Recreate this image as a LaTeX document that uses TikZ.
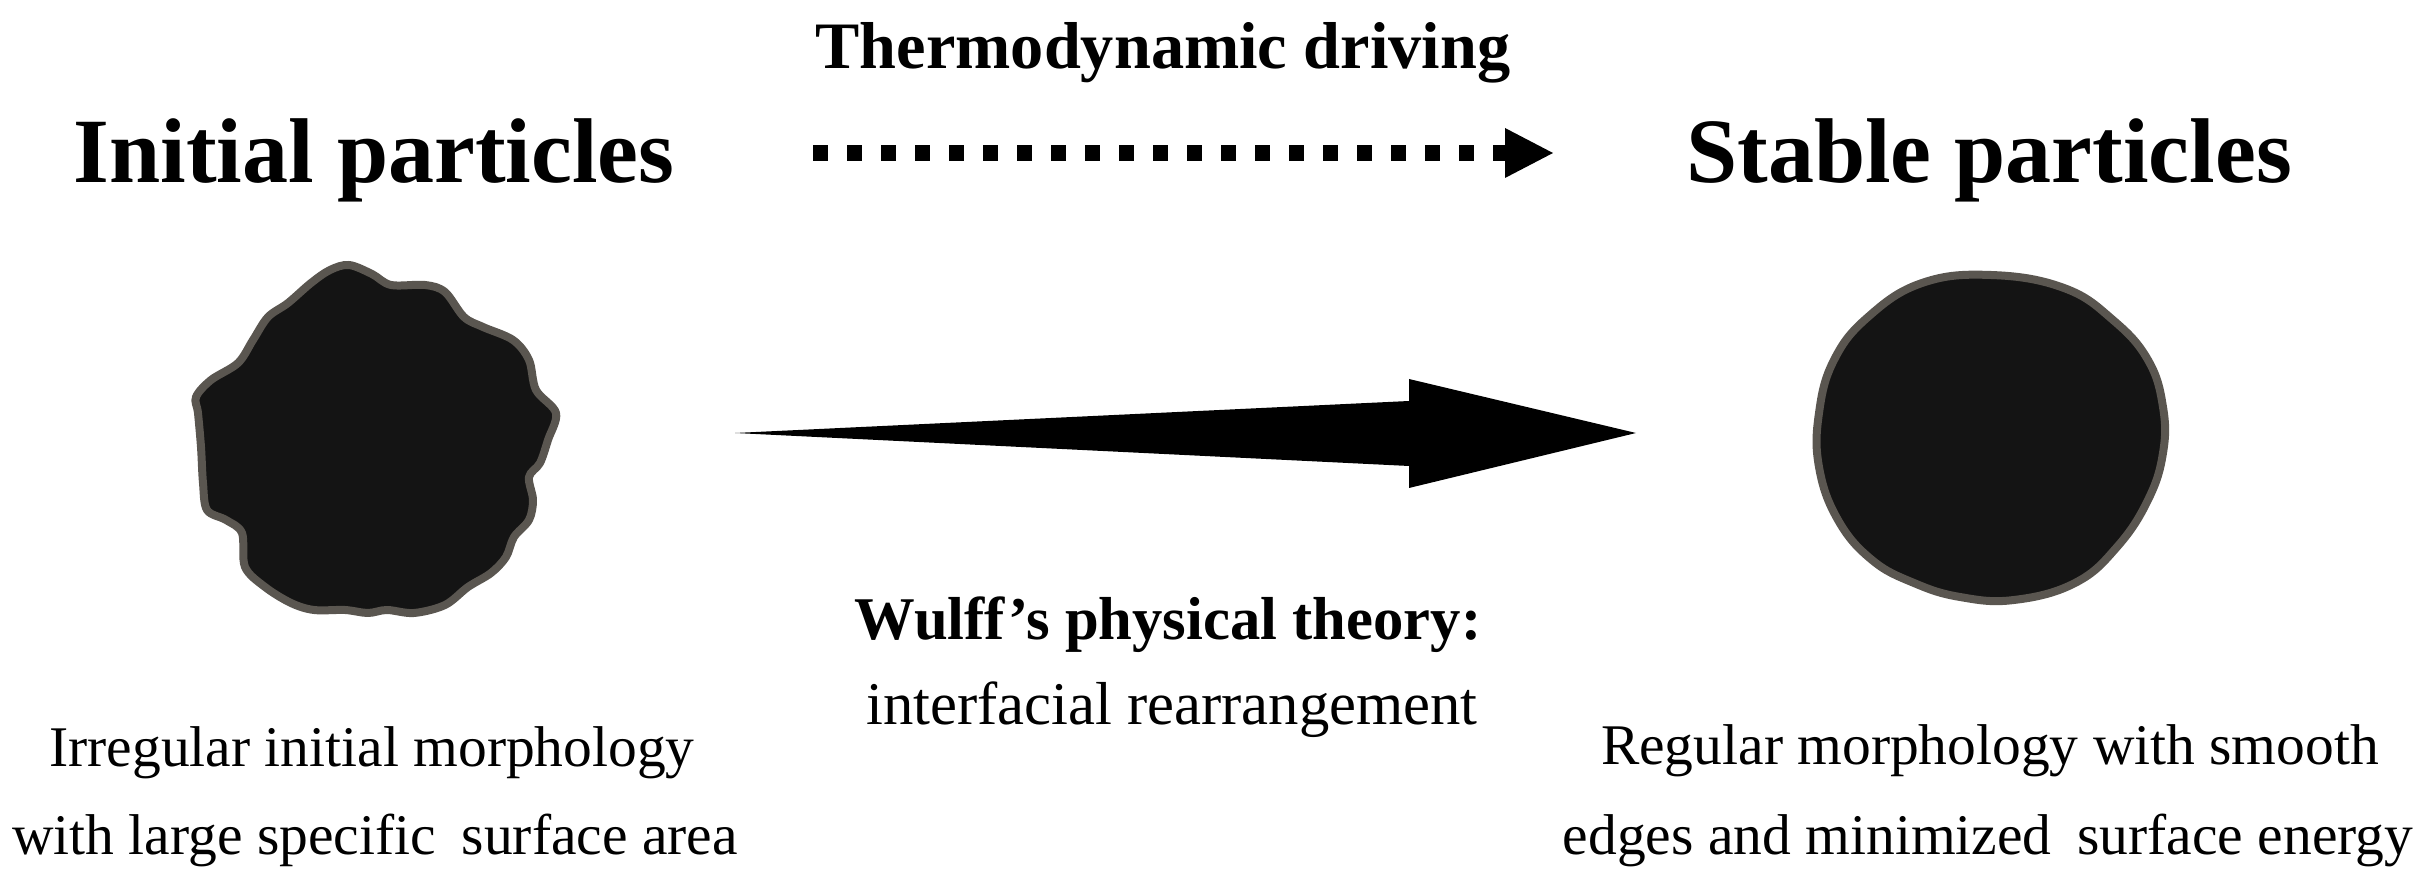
\documentclass[tikz,border=0pt]{standalone}
\usepackage{fontspec}
\setmainfont{Liberation Serif}
\definecolor{pfill}{HTML}{141414}
\definecolor{pedge}{HTML}{5A5650}
\begin{document}
\begin{tikzpicture}[x=0.3pt,y=-0.3pt,
  txt/.style={anchor=base, inner sep=0pt, outer sep=0pt},
  titletxt/.style={txt, font=\fontsize{27.6pt}{33pt}\selectfont\bfseries},
  headtxt/.style={txt, font=\fontsize{19.9pt}{24pt}\selectfont\bfseries},
  bodytxt/.style={txt, font=\fontsize{17.25pt}{21pt}\selectfont},
  midtxt/.style={txt, font=\fontsize{18.2pt}{22pt}\selectfont},
  midbold/.style={txt, font=\fontsize{18.2pt}{22pt}\selectfont\bfseries},
  particle/.style={fill=pfill, draw=pedge, line width=2.4pt, line join=round},
  dotline/.style={line width=4.8pt, dash pattern=on 4.5pt off 5.7pt},
  bigarrow/.style={fill=black, draw=none}
]
\useasboundingbox (0,0) rectangle (2420,892);

% headings
\node[headtxt] (thermo) at (1163,69) {Thermodynamic driving};
\node[titletxt] (initt) at (374,183) {Initial particles};
\node[titletxt] (stabt) at (1989,183) {Stable particles};

% dotted arrow
\coordinate (dstart) at (813,153);
\coordinate (dend) at (1505,153);
\coordinate (dtip) at (1553,153);
\draw[dotline] (dstart) -- (dend);
\fill ([yshift=-25*0.3pt]dend) -- (dtip) -- ([yshift=25*0.3pt]dend) -- cycle;

% initial irregular particle
\draw[particle] plot[smooth cycle, tension=0.55] coordinates {
 (349,265) (372,274) (391,285) (425,285) (445,292) (464,317) (483,327)
 (513,340) (529,360) (536,390) (556,413) (548,440) (540,463) (529,477)
 (533,500) (529,520) (514,537) (506,557) (491,573) (468,587) (445,605)
 (414,613) (387,610) (368,613) (345,610) (314,610) (291,603) (265,587)
 (245,567) (242,533) (226,520) (207,510) (203,483) (201,447) (198,413)
 (196,397) (211,380) (238,363) (253,340) (268,317) (288,303) (311,283)
 (330,270)};
\coordinate (initp) at (376,440);

% big arrow
\coordinate (btail) at (735,433);
\coordinate (btip) at (1636,433);
\fill[bigarrow] (btail) -- (1409,401) -- (1409,379) -- (btip) -- (1409,488) -- (1409,466) -- cycle;

% stable particle
\draw[particle] plot[smooth cycle, tension=0.7] coordinates {
 (1991,275) (2064,288) (2113,320) (2148,360) (2163,407) (2163,453)
 (2148,500) (2117,547) (2075,583) (2014,600) (1960,597) (1914,583)
 (1872,560) (1838,520) (1819,467) (1819,413) (1834,360) (1868,317)
 (1922,283)};
\coordinate (stabp) at (1991,438);

% middle texts
\node[midbold] (wulff) at (1168,640) {Wulff’s physical theory:};
\node[midtxt] (inter) at (1172,725) {interfacial rearrangement};

% bottom texts
\node[bodytxt] (irr1) at (372,767) {Irregular initial morphology};
\node[bodytxt] (irr2) at (375,855) {with large specific\hspace{0.2em} surface area};
\node[bodytxt] (reg1) at (1990,765) {Regular morphology with smooth};
\node[bodytxt] (reg2) at (1988,855) {edges and minimized\hspace{0.2em} surface energy};
\end{tikzpicture}
\end{document}
